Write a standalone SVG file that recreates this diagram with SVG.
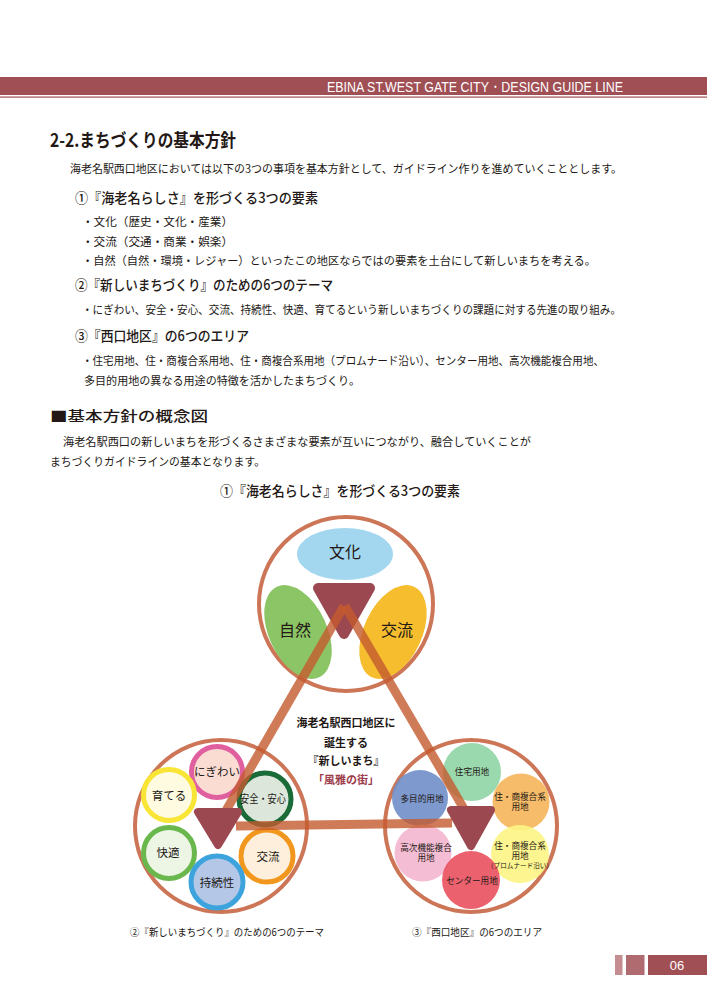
<svg xmlns="http://www.w3.org/2000/svg" width="707" height="1000" viewBox="0 0 707 1000">
<style>
.jp{font-family:"Noto Sans CJK JP","Noto Sans",sans-serif;fill:#231815}
.b{font-weight:bold}
.body{font-size:11.5px}
.h2{font-size:14px;font-weight:500}
.ring{fill:none;stroke:#cd7657;stroke-width:4}
.hub{fill:#9b4850;stroke:#9b4850;stroke-linejoin:round}
.lbl{font-family:"Noto Sans CJK JP","Noto Sans",sans-serif;fill:#231815;text-anchor:middle}
.t{font-size:11.5px}
.a{font-size:8.6px}
.conn{stroke:#c45a2e;stroke-width:9;stroke-opacity:0.8;fill:none}
.c6{stroke-width:5}
.area{opacity:0.9}
</style>
<rect width="707" height="1000" fill="#ffffff"/>
<g id="header">
<rect x="0" y="77" width="707" height="18" fill="#a04f55"/>
<rect x="0" y="96.5" width="707" height="1.2" fill="#a04f55"/>
<text x="327" y="92" font-family="Liberation Sans, sans-serif" font-size="15" fill="#ffffff" textLength="296" lengthAdjust="spacingAndGlyphs">EBINA ST.WEST GATE CITY・DESIGN GUIDE LINE</text>
</g>
<g id="page-text">
<text class="jp b" x="50" y="147" font-size="18" textLength="186" lengthAdjust="spacingAndGlyphs">2-2.まちづくりの基本方針</text>
<text class="jp body" x="70" y="173" textLength="552" lengthAdjust="spacingAndGlyphs">海老名駅西口地区においては以下の3つの事項を基本方針として、ガイドライン作りを進めていくこととします。</text>
<text class="jp h2" x="75" y="203" textLength="243" lengthAdjust="spacingAndGlyphs">①『海老名らしさ』を形づくる3つの要素</text>
<text class="jp body" x="82" y="226" textLength="151" lengthAdjust="spacingAndGlyphs">・文化（歴史・文化・産業）</text>
<text class="jp body" x="82" y="246" textLength="151" lengthAdjust="spacingAndGlyphs">・交流（交通・商業・娯楽）</text>
<text class="jp body" x="82" y="265" textLength="514" lengthAdjust="spacingAndGlyphs">・自然（自然・環境・レジャー）といったこの地区ならではの要素を土台にして新しいまちを考える。</text>
<text class="jp h2" x="75" y="290" textLength="258" lengthAdjust="spacingAndGlyphs">②『新しいまちづくり』のための6つのテーマ</text>
<text class="jp body" x="82" y="314" textLength="539" lengthAdjust="spacingAndGlyphs">・にぎわい、安全・安心、交流、持続性、快適、育てるという新しいまちづくりの課題に対する先進の取り組み。</text>
<text class="jp h2" x="75" y="341" textLength="174" lengthAdjust="spacingAndGlyphs">③『西口地区』の6つのエリア</text>
<text class="jp body" x="82" y="365" textLength="522" lengthAdjust="spacingAndGlyphs">・住宅用地、住・商複合系用地、住・商複合系用地（プロムナード沿い）、センター用地、高次機能複合用地、</text>
<text class="jp body" x="84" y="385" textLength="276" lengthAdjust="spacingAndGlyphs">多目的用地の異なる用途の特徴を活かしたまちづくり。</text>
<text class="jp h2" x="50" y="421" textLength="158" lengthAdjust="spacingAndGlyphs">■基本方針の概念図</text>
<text class="jp body" x="63" y="446" textLength="468" lengthAdjust="spacingAndGlyphs">海老名駅西口の新しいまちを形づくるさまざまな要素が互いにつながり、融合していくことが</text>
<text class="jp body" x="50" y="466" textLength="215" lengthAdjust="spacingAndGlyphs">まちづくりガイドラインの基本となります。</text>
<text class="jp h2" x="220" y="496" textLength="240" lengthAdjust="spacingAndGlyphs">①『海老名らしさ』を形づくる3つの要素</text>
<text class="jp" x="130" y="936" font-size="10.5" textLength="194" lengthAdjust="spacingAndGlyphs">②『新しいまちづくり』のための6つのテーマ</text>
<text class="jp" x="412" y="936" font-size="10.5" textLength="130" lengthAdjust="spacingAndGlyphs">③『西口地区』の6つのエリア</text>
</g>
<g id="node-elements">
<circle class="ring" cx="346" cy="604" r="87"/>
<ellipse cx="345" cy="554" rx="48" ry="26" fill="#a3d7ef"/>
<ellipse cx="298" cy="632" rx="29" ry="50" fill="#8cc565" transform="rotate(-25 298 632)"/>
<ellipse cx="393" cy="632" rx="29" ry="50" fill="#f6bd2f" transform="rotate(25 393 632)"/>
<polygon class="hub" stroke-width="10" points="318,588 370,588 344,634"/>
<text class="lbl" x="345" y="558" font-size="16">文化</text>
<text class="lbl" x="295" y="636" font-size="16">自然</text>
<text class="lbl" x="397" y="636" font-size="16">交流</text>
</g>
<g id="node-themes">
<circle class="ring" cx="221" cy="826" r="86"/>
<circle class="c6" cx="217" cy="772" r="25.5" fill="#fadcd3" stroke="#e0609f"/>
<circle class="c6" cx="169" cy="795" r="25.5" fill="#fffbe0" stroke="#f8e535"/>
<circle class="c6" cx="169" cy="853" r="25.5" fill="#edf5e5" stroke="#6ab84d"/>
<circle class="c6" cx="267" cy="856" r="26" fill="#fdefdc" stroke="#f2971d"/>
<circle class="c6" cx="217" cy="882" r="26" fill="#b4c7e7" stroke="#3ca3dd"/>
<circle class="c6" cx="265" cy="799" r="26" fill="#d8e3d6" fill-opacity="0.9" stroke="#1a6b37"/>
<text class="lbl t" x="217" y="776">にぎわい</text>
<text class="lbl t" x="169" y="800">育てる</text>
<text class="lbl t" x="168" y="857">快適</text>
<text class="lbl t" x="268" y="861">交流</text>
<text class="lbl t" x="217" y="887">持続性</text>
<text class="lbl" x="263" y="803" font-size="11" textLength="46" lengthAdjust="spacingAndGlyphs">安全・安心</text>
</g>
<g id="node-areas">
<circle class="ring" cx="471" cy="826" r="86"/>
<circle class="area" cx="472" cy="772" r="29" fill="#8fd4a4"/>
<circle class="area" cx="420" cy="798" r="28" fill="#6f8ec9"/>
<circle class="area" cx="521" cy="802" r="28.5" fill="#f5b559"/>
<circle class="area" cx="423" cy="853" r="28.5" fill="#f3b6cf"/>
<circle class="area" cx="520" cy="854" r="29" fill="#fdf484"/>
<circle class="area" cx="471" cy="880" r="29" fill="#e9505e"/>
<text class="lbl a" x="472" y="775">住宅用地</text>
<text class="lbl a" x="422" y="802">多目的用地</text>
<text class="lbl a" x="520" y="800">住・商複合系<tspan x="520" dy="10">用地</tspan></text>
<text class="lbl a" x="426" y="851">高次機能複合<tspan x="426" dy="10">用地</tspan></text>
<text class="lbl a" x="520" y="849">住・商複合系<tspan x="520" dy="10">用地</tspan><tspan x="520" dy="8.5" font-size="6.6">（プロムナード沿い）</tspan></text>
<text class="lbl a" x="472" y="884">センター用地</text>
</g>
<g id="connectors">
<line class="conn" x1="344" y1="606" x2="224" y2="814"/>
<line class="conn" x1="345" y1="606" x2="467" y2="814"/>
<line class="conn" x1="236" y1="826" x2="452" y2="823"/>
</g>
<g id="hub-themes">
<polygon class="hub" stroke-width="8" points="198,812 238,812 218,845"/>
</g>
<g id="hub-areas">
<polygon class="hub" stroke-width="8" points="451,810 491,810 471,846"/>
</g>
<g id="center-label">
<text class="lbl b" x="346" y="727" font-size="11">海老名駅西口地区に</text>
<text class="lbl b" x="346" y="747" font-size="11">誕生する</text>
<text class="lbl b" x="346" y="765" font-size="11">『新しいまち』</text>
<text class="lbl b" x="346" y="784" font-size="11" style="fill:#9c3a4a">「風雅の街」</text>
</g>
<g id="footer">
<rect x="615" y="955" width="7.5" height="20" fill="#c58d92"/>
<rect x="626" y="955" width="18.5" height="20" fill="#b06b71"/>
<rect x="648" y="955" width="59" height="20" fill="#a04f55"/>
<text x="677" y="970" font-family="Liberation Sans, sans-serif" font-size="13" fill="#ffffff" text-anchor="middle">06</text>
</g>
</svg>
